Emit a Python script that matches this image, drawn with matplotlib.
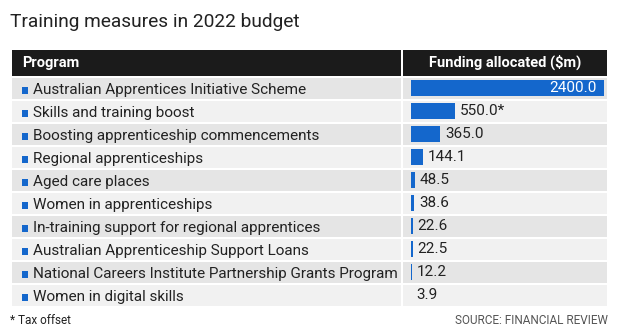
import matplotlib
matplotlib.use("Agg")
import matplotlib.pyplot as plt
from matplotlib.patches import Rectangle

plt.rcParams['font.family'] = ['Liberation Sans Narrow', 'Roboto', 'DejaVu Sans']

# data
programs = [
    "Australian Apprentices Initiative Scheme",
    "Skills and training boost",
    "Boosting apprenticeship commencements",
    "Regional apprenticeships",
    "Aged care places",
    "Women in apprenticeships",
    "In-training support for regional apprentices",
    "Australian Apprenticeship Support Loans",
    "National Careers Institute Partnership Grants Program",
    "Women in digital skills",
]
funding = [2400.0, 550.0, 365.0, 144.1, 48.5, 38.6, 22.6, 22.5, 12.2, 3.9]
notes = ["", "*", "", "", "", "", "", "", "", ""]

BLUE = "#1467cc"
DARK = "#1b1b1b"
TEXT = "#222222"
ROW_DARK = "#e5e5e5"
ROW_LIGHT = "#f1f1f1"

W, H = 620, 334
fig = plt.figure(figsize=(W / 100, H / 100), dpi=100)
fig.patch.set_facecolor("white")

# background axes in pixel coords
ax0 = fig.add_axes([0, 0, 1, 1])
ax0.set_xlim(0, W)
ax0.set_ylim(H, 0)
ax0.axis("off")

c1_left, c1_right = 12, 401
c2_left, c2_right = 403, 607
head_top, head_bot = 50, 76
row_top0, row_pitch, row_h = 77.5, 23, 21

ax0.text(10, 27, "Training measures in 2022 budget", fontsize=13.8,
         color=TEXT, va="baseline", ha="left")

# header
ax0.add_patch(Rectangle((c1_left, head_top), c1_right - c1_left, head_bot - head_top,
                        color=DARK, lw=0))
ax0.add_patch(Rectangle((c2_left, head_top), c2_right - c2_left, head_bot - head_top,
                        color=DARK, lw=0))
ax0.text(22, 67, "Program", color="white", fontsize=10.5, fontweight="bold",
         va="baseline", ha="left")
ax0.text((c2_left + c2_right) / 2, 67, "Funding allocated ($m)", color="white",
         fontsize=10.5, fontweight="bold", va="baseline", ha="center")

for i, name in enumerate(programs):
    top = row_top0 + i * row_pitch
    col = ROW_DARK if i % 2 == 0 else ROW_LIGHT
    ax0.add_patch(Rectangle((c1_left, top), c1_right - c1_left, row_h, color=col, lw=0))
    ax0.add_patch(Rectangle((c2_left, top), c2_right - c2_left, row_h, color=col, lw=0))
    base = top + 16.5
    ax0.add_patch(Rectangle((22, base - 7), 6, 6.5, color=BLUE, lw=0))
    ax0.text(33, base, name, color=TEXT, fontsize=11, va="baseline", ha="left")

# bar axes: 0 -> x=411, 2400 -> x=604
bx0, bx1 = 411, 604
ax1 = fig.add_axes([bx0 / W, 1 - (row_top0 - 1 + 10 * row_pitch) / H,
                    (bx1 - bx0) / W, 10 * row_pitch / H])
ax1.set_xlim(0, max(funding))
ax1.set_ylim(9.5, -0.5)
ax1.axis("off")
ax1.patch.set_alpha(0)
ax1.barh(range(len(funding)), funding, height=0.72, color=BLUE, lw=0)

vmax = max(funding)
for i, (v, n) in enumerate(zip(funding, notes)):
    label = f"{v:.1f}{n}"
    if v == vmax:
        ax1.annotate(label, (v, i), xytext=(-5, 0), textcoords="offset points",
                     ha="right", va="center", color="white", fontsize=11)
    else:
        ax1.annotate(label, (v, i), xytext=(3.5, 0), textcoords="offset points",
                     ha="left", va="center", color=TEXT, fontsize=11)

ax0.text(10, 324, "* Tax offset", color=TEXT, fontsize=8.5, va="baseline", ha="left")
ax0.text(608, 324, "SOURCE: FINANCIAL REVIEW", color="#555555", fontsize=8.5,
         va="baseline", ha="right")

fig.savefig("out.png", dpi=100, facecolor="white")
